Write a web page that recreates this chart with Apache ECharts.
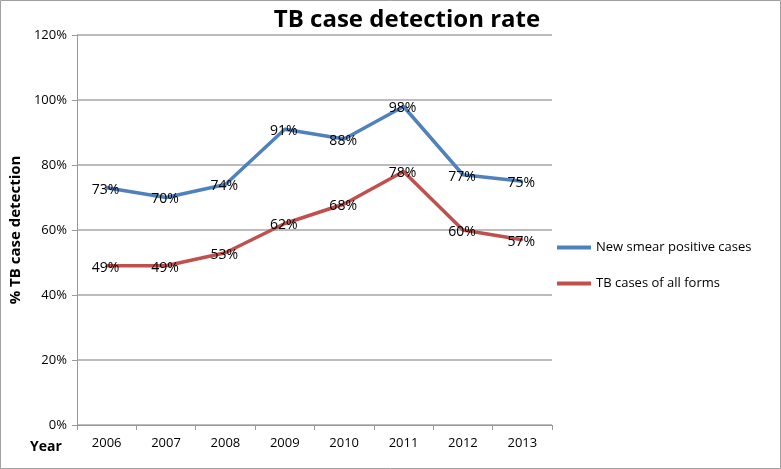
<!DOCTYPE html>
<html>
<head>
<meta charset="utf-8">
<script src="https://cdn.jsdelivr.net/npm/echarts@6/dist/echarts.min.js"></script>
<style>html,body{margin:0;padding:0;background:#fff}#c{width:781px;height:469px}</style>
</head>
<body>
<div id="c"></div>
<script>
const years = ['2006','2007','2008','2009','2010','2011','2012','2013'];
const newSmear = [73,70,74,91,88,98,77,75];
const allForms = [49,49,53,62,68,78,60,57];
const seriesNames = ['New smear positive cases','TB cases of all forms'];
const yTicks = [0,20,40,60,80,100,120];

const chart = echarts.init(document.getElementById('c'));
const FONT = '"Open Sans", sans-serif';
const lbl = {show:true, position:'top', distance:0, offset:[-1,10], formatter: p => p.value + '%', color:'#000', fontSize:14, fontFamily:FONT};
chart.setOption({
  animation:false,
  title:{text:'TB case detection rate', left:402, textAlign:'center', top:3,
    textStyle:{fontSize:24, fontWeight:'bold', color:'#000', fontFamily:FONT}},
  grid:{left:73, right:229, top:35, bottom:44},
  legend:{orient:'vertical', left:552, top:236, itemGap:23, itemWidth:34, itemHeight:4, icon:'rect',
    textStyle:{fontSize:13, color:'#000', fontFamily:FONT}, data:seriesNames},
  xAxis:{type:'category', data:years, boundaryGap:true,
    axisLine:{lineStyle:{color:'#9a9a9a'}}, axisTick:{show:true, length:5, lineStyle:{color:'#9a9a9a'}},
    axisLabel:{fontSize:13, color:'#000', fontFamily:FONT, margin:12}},
  yAxis:{type:'value', min:0, max:120, interval:20,
    name:'% TB case detection', nameLocation:'middle', nameGap:52,
    nameTextStyle:{fontSize:15, fontWeight:'bold', color:'#000', fontFamily:FONT},
    axisLine:{show:true, lineStyle:{color:'#9a9a9a'}}, axisTick:{show:true, length:5, lineStyle:{color:'#9a9a9a'}},
    splitLine:{lineStyle:{color:'#a6a6a6', width:1.5}},
    axisLabel:{fontSize:13, color:'#000', fontFamily:FONT, margin:10, formatter: v => yTicks.includes(v) ? v + '%' : ''}},
  series:[
    {name:seriesNames[0], type:'line', data:newSmear, symbol:'circle', symbolSize:2, showSymbol:true, lineStyle:{color:'#4F81BD', width:3.5}, itemStyle:{color:'#4F81BD'}, label:lbl},
    {name:seriesNames[1], type:'line', data:allForms, symbol:'circle', symbolSize:2, showSymbol:true, lineStyle:{color:'#C0504D', width:3.5}, itemStyle:{color:'#C0504D'}, label:lbl}
  ],
  graphic:[
    {type:'text', left:30, top:440, style:{text:'Year', fontSize:14, fontWeight:'bold', fill:'#000', fontFamily:FONT}},
    {type:'rect', shape:{x:0.5, y:0.5, width:780, height:468}, style:{fill:'none', stroke:'#a0a0a0', lineWidth:1}}
  ]
});
</script>
</body>
</html>
